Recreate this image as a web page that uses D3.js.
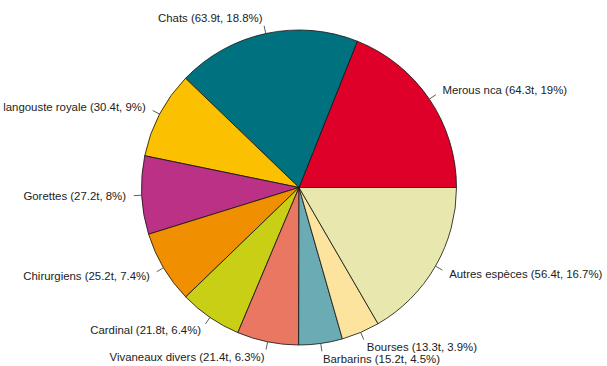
<!DOCTYPE html>
<html>
<head>
<meta charset="utf-8">
<script src="https://cdn.jsdelivr.net/npm/d3@7"></script>
<style>
  html, body { margin: 0; padding: 0; background: #fff; }
  svg { display: block; }
</style>
</head>
<body>
<svg id="chart" width="607" height="366"></svg>
<script>
// Catch composition (tonnes), drawn counter-clockwise from 3 o'clock
const categories = ["Merous nca", "Chats", "langouste royale", "Gorettes", "Chirurgiens",
                    "Cardinal", "Vivaneaux divers", "Barbarins", "Bourses", "Autres espèces"];
const tonnes = [64.3, 63.9, 30.4, 27.2, 25.2, 21.8, 21.4, 15.2, 13.3, 56.4];
const percents = ["19", "18.8", "9", "8", "7.4", "6.4", "6.3", "4.5", "3.9", "16.7"];
const colors = ["#DF0029", "#00727F", "#FBC100", "#BB3186", "#F08F00",
                "#C8CF14", "#EA7762", "#6BABB4", "#FDE49E", "#E8E8AE"];

const svg = d3.select("#chart");
const cx = 299, cy = 187.5, R = 157.5;

const data = categories.map((c, i) => ({ name: c, value: tonnes[i], pct: percents[i], color: colors[i] }));

// d3 angles run clockwise from 12 o'clock; start at 3 o'clock and go counter-clockwise
const pie = d3.pie().sort(null).value(d => d.value)
  .startAngle(Math.PI / 2).endAngle(Math.PI / 2 - 2 * Math.PI);
const arcs = pie(data);
const arc = d3.arc().innerRadius(0).outerRadius(R);

const g = svg.append("g").attr("transform", `translate(${cx},${cy})`);

g.selectAll("path.slice").data(arcs).join("path")
  .attr("class", "slice")
  .attr("d", arc)
  .attr("fill", d => d.data.color)
  .attr("stroke", "#111")
  .attr("stroke-width", 0.8)
  .attr("stroke-linejoin", "round");

const mid = d => (d.startAngle + d.endAngle) / 2;
const px = (a, r) => Math.sin(a) * r;
const py = (a, r) => -Math.cos(a) * r;

// tick marks from the rim outwards
g.selectAll("line.tick").data(arcs).join("line")
  .attr("class", "tick")
  .attr("x1", d => px(mid(d), R)).attr("y1", d => py(mid(d), R))
  .attr("x2", d => px(mid(d), R * 1.05)).attr("y2", d => py(mid(d), R * 1.05))
  .attr("stroke", "#333").attr("stroke-width", 0.8);

g.selectAll("text.lab").data(arcs).join("text")
  .attr("class", "lab")
  .attr("x", d => px(mid(d), R * 1.1))
  .attr("y", d => py(mid(d), R * 1.1))
  .attr("dy", "0.35em")
  .attr("text-anchor", d => px(mid(d), 1) < 0 ? "end" : "start")
  .style("font-family", "'Liberation Sans', Arial, sans-serif")
  .attr("font-size", 11.4)
  .attr("fill", "#222")
  .text(d => `${d.data.name} (${d.data.value}t, ${d.data.pct}%)`);
</script>
</body>
</html>
